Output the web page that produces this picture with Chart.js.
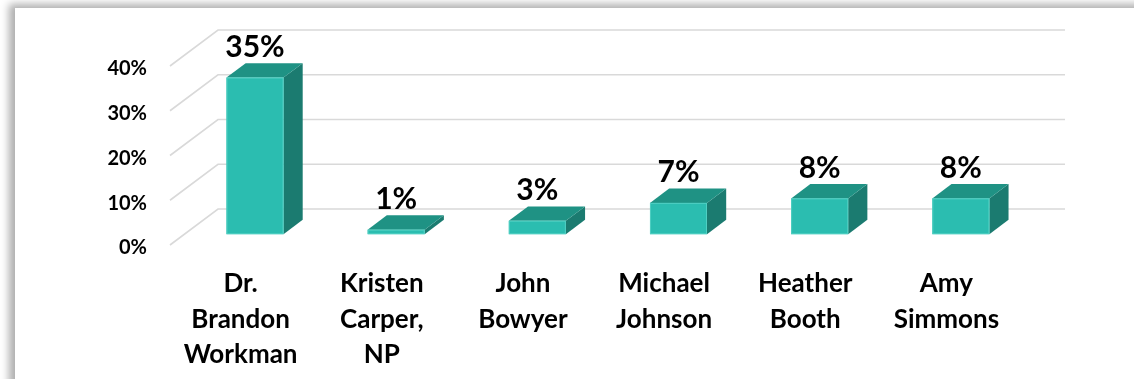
<!DOCTYPE html>
<html>
<head>
<meta charset="utf-8">
<script src="https://cdn.jsdelivr.net/npm/chart.js@4/dist/chart.umd.min.js"></script>
<style>
  html, body { margin: 0; padding: 0; background: #fff; overflow: hidden; }
  #wrap { position: relative; width: 1134px; height: 379px; }
  #card {
    position: absolute; left: 15px; top: 8px; width: 1160px; height: 420px;
    background: #fff; box-shadow: -6px -4px 8px rgba(0,0,0,0.32);
  }
  #chart { position: absolute; left: 0; top: 0; }
</style>
</head>
<body>
<div id="wrap">
  <div id="card"></div>
  <canvas id="chart" width="1134" height="379"></canvas>
</div>
<script>
// Share of responses per provider (percent)
const providers = [
  ["Dr.", "Brandon", "Workman"],
  ["Kristen", "Carper,", "NP"],
  ["John", "Bowyer"],
  ["Michael", "Johnson"],
  ["Heather", "Booth"],
  ["Amy", "Simmons"]
];
const shares = [35, 1, 3, 7, 8, 8];
const axisMax = 40;
const axisStep = 10;

// Oblique projection of the floor: how far the back wall sits from the front plane
const DEPTH_X = 48;
const DEPTH_Y = 36;
// Bars sit in the middle of the floor depth
const BAR_FRONT = 0.3;
const BAR_DEPTH = 0.4;

const FONT = "Lato, 'Open Sans', sans-serif";
const COLORS = {
  front: '#2bbdb0',
  frontEdge: '#4fcfc2',
  top: '#1f9284',
  side: '#1b7b70',
  grid: '#d9d9d9',
  text: '#000000'
};

const box3d = {
  id: 'box3d',
  beforeDatasetsDraw(chart) {
    const { ctx, chartArea } = chart;
    const y = chart.scales.y;
    ctx.save();
    ctx.strokeStyle = COLORS.grid;
    ctx.lineWidth = 1.6;
    y.ticks.forEach(t => {
      const py = y.getPixelForValue(t.value);
      ctx.beginPath();
      ctx.moveTo(chartArea.left, py);
      ctx.lineTo(chartArea.left + DEPTH_X, py - DEPTH_Y);
      ctx.lineTo(chartArea.right + DEPTH_X, py - DEPTH_Y);
      ctx.stroke();
    });
    ctx.restore();
  },
  afterDatasetsDraw(chart) {
    const { ctx } = chart;
    const meta = chart.getDatasetMeta(0);
    const values = chart.data.datasets[0].data;
    const fx = BAR_FRONT * DEPTH_X, fy = BAR_FRONT * DEPTH_Y;
    const dx = BAR_DEPTH * DEPTH_X, dy = BAR_DEPTH * DEPTH_Y;
    ctx.save();
    meta.data.forEach((el, i) => {
      const p = el.getProps(['x', 'y', 'base', 'width'], true);
      const xL = p.x - p.width / 2 + fx;
      const xR = p.x + p.width / 2 + fx;
      const yT = Math.min(p.y, p.base) - fy;
      const yB = Math.max(p.y, p.base) - fy;

      // side face
      ctx.fillStyle = COLORS.side;
      ctx.beginPath();
      ctx.moveTo(xR, yT);
      ctx.lineTo(xR + dx, yT - dy);
      ctx.lineTo(xR + dx, yB - dy);
      ctx.lineTo(xR, yB);
      ctx.closePath();
      ctx.fill();

      // top face
      ctx.fillStyle = COLORS.top;
      ctx.beginPath();
      ctx.moveTo(xL, yT);
      ctx.lineTo(xL + dx, yT - dy);
      ctx.lineTo(xR + dx, yT - dy);
      ctx.lineTo(xR, yT);
      ctx.closePath();
      ctx.fill();

      // front face
      ctx.fillStyle = COLORS.front;
      ctx.fillRect(xL, yT, xR - xL, yB - yT);
      ctx.strokeStyle = COLORS.frontEdge;
      ctx.lineWidth = 1;
      ctx.strokeRect(xL + 0.5, yT + 0.5, xR - xL - 1, yB - yT - 1);

      // value label
      ctx.fillStyle = COLORS.text;
      ctx.font = "bold 30px " + FONT;
      ctx.textAlign = 'center';
      ctx.textBaseline = 'alphabetic';
      ctx.fillText(values[i] + '%', (xL + xR) / 2, yT - dy - 6);
    });
    ctx.restore();
  }
};

new Chart(document.getElementById('chart'), {
  type: 'bar',
  data: {
    labels: providers,
    datasets: [{
      data: shares,
      backgroundColor: 'rgba(0,0,0,0)',
      borderWidth: 0,
      barPercentage: 0.404,
      categoryPercentage: 1
    }]
  },
  options: {
    responsive: false,
    animation: false,
    devicePixelRatio: 1,
    layout: { padding: { top: 66, right: 117, left: 0, bottom: 0 } },
    plugins: { legend: { display: false }, tooltip: { enabled: false } },
    scales: {
      x: {
        grid: { display: false, drawTicks: false },
        border: { display: false },
        afterFit(s) { s.height = 134; },
        ticks: {
          color: COLORS.text,
          padding: 21,
          maxRotation: 0,
          autoSkip: false,
          font: { family: FONT, size: 26, weight: 'bold', lineHeight: 1.365 }
        }
      },
      y: {
        min: 0,
        max: axisMax,
        grid: { display: false, drawTicks: false },
        border: { display: false },
        afterFit(s) { s.width = 170; },
        ticks: {
          stepSize: axisStep,
          color: COLORS.text,
          padding: 23,
          labelOffset: 3,
          font: { family: FONT, size: 20, weight: 'bold' },
          callback: v => v + '%'
        }
      }
    }
  },
  plugins: [box3d]
});
</script>
</body>
</html>
